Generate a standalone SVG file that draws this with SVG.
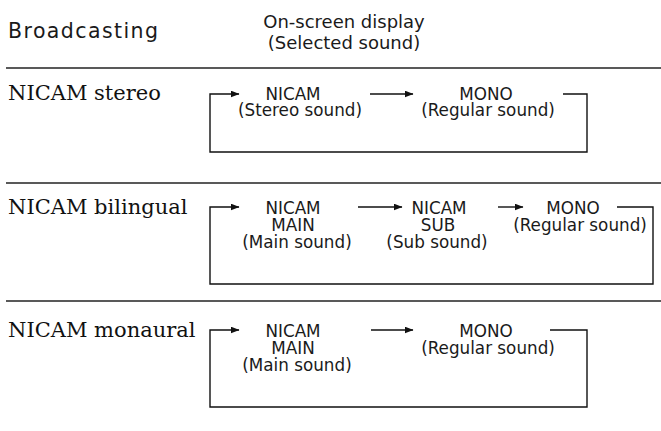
<svg xmlns="http://www.w3.org/2000/svg" width="661" height="431" viewBox="0 0 661 431">
<defs>
<marker id="ah" markerWidth="9" markerHeight="7" refX="8.5" refY="3.5" orient="auto" markerUnits="userSpaceOnUse">
<path d="M0,0 L9,3.5 L0,7 Z" fill="#111"/>
</marker>
<style>
.hd{font-family:"DejaVu Sans","Liberation Sans",sans-serif;font-size:18px;fill:#1a1a1a}
.lb{font-family:"DejaVu Serif","Liberation Serif",serif;font-size:21px;fill:#111}
.t{font-family:"DejaVu Sans","Liberation Sans",sans-serif;font-size:16.8px;fill:#1a1a1a;text-anchor:middle}
.rule{stroke:#222;stroke-width:1.6;fill:none}
.ar{stroke:#111;stroke-width:1.4;fill:none;marker-end:url(#ah)}
</style>
</defs>
<g id="header">
<text class="hd" x="8" y="38" style="font-size:20.5px" textLength="150" lengthAdjust="spacing">Broadcasting</text>
<text class="hd" x="344" y="28" text-anchor="middle">On-screen display</text>
<text class="hd" x="344" y="49" text-anchor="middle">(Selected sound)</text>
</g>
<g id="rules">
<line class="rule" x1="6" y1="68" x2="661" y2="68"/>
<line class="rule" x1="6" y1="183" x2="661" y2="183"/>
<line class="rule" x1="6" y1="301" x2="661" y2="301"/>
</g>
<g id="row1-label"><text class="lb" x="8" y="100">NICAM stereo</text></g>
<g id="row1-nicam"><text class="t" x="293" y="100">NICAM</text><text class="t" x="300" y="116">(Stereo sound)</text></g>
<g id="row1-mono"><text class="t" x="486" y="100">MONO</text><text class="t" x="488" y="116">(Regular sound)</text></g>
<g id="row2-label"><text class="lb" x="8" y="214">NICAM bilingual</text></g>
<g id="row2-main"><text class="t" x="293" y="214">NICAM</text><text class="t" x="293" y="231">MAIN</text><text class="t" x="297" y="248">(Main sound)</text></g>
<g id="row2-sub"><text class="t" x="439" y="214">NICAM</text><text class="t" x="438" y="231">SUB</text><text class="t" x="437" y="248">(Sub sound)</text></g>
<g id="row2-mono"><text class="t" x="573" y="214">MONO</text><text class="t" x="580" y="231">(Regular sound)</text></g>
<g id="row3-label"><text class="lb" x="8" y="337">NICAM monaural</text></g>
<g id="row3-main"><text class="t" x="293" y="337">NICAM</text><text class="t" x="293" y="354">MAIN</text><text class="t" x="297" y="371">(Main sound)</text></g>
<g id="row3-mono"><text class="t" x="486" y="337">MONO</text><text class="t" x="488" y="354">(Regular sound)</text></g>
<g id="connectors">
<path class="ar" d="M563,94 H587 V152 H210 V94 H239"/>
<path class="ar" d="M370,94 H413"/>
<path class="ar" d="M617,207 H653 V284 H210 V207 H239"/>
<path class="ar" d="M358,207 H402"/>
<path class="ar" d="M498,207 H523"/>
<path class="ar" d="M550,330 H587 V407 H210 V330 H239"/>
<path class="ar" d="M371,330 H413"/>
</g>
</svg>
